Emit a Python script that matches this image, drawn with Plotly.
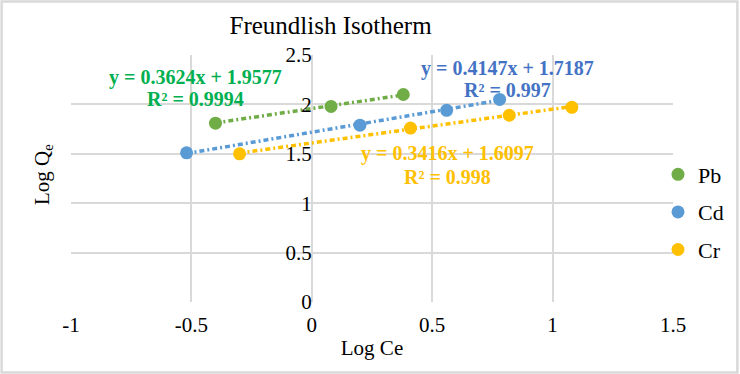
import plotly.graph_objects as go

# ---- data ----
series_names = ["Pb", "Cd", "Cr"]
pb_x = [-0.40, 0.08, 0.38]
pb_y = [1.81, 1.98, 2.10]
cd_x = [-0.52, 0.20, 0.56, 0.78]
cd_y = [1.51, 1.79, 1.94, 2.05]
cr_x = [-0.30, 0.41, 0.82, 1.08]
cr_y = [1.50, 1.76, 1.89, 1.97]
slopes = [0.3624, 0.4147, 0.3416]
intercepts = [1.9577, 1.7187, 1.6097]
r2_values = ["0.9994", "0.997", "0.998"]
x_ticks = [-1, -0.5, 0, 0.5, 1, 1.5]
y_ticks = [0, 0.5, 1, 1.5, 2, 2.5]

marker_colors = ["#70AD47", "#5B9BD5", "#FFC000"]
label_colors = ["#00B050", "#4472C4", "#FFC000"]
FONT = "Liberation Serif"

xs = [pb_x, cd_x, cr_x]
ys = [pb_y, cd_y, cr_y]

fig = go.Figure()
for i, name in enumerate(series_names):
    x0, x1 = min(xs[i]), max(xs[i])
    fig.add_trace(go.Scatter(
        x=[x0, x1], y=[slopes[i] * x0 + intercepts[i], slopes[i] * x1 + intercepts[i]],
        mode="lines", line=dict(color=marker_colors[i], width=3.5, dash="5px,3px,2px,3px"),
        showlegend=False, hoverinfo="skip"))
for i, name in enumerate(series_names):
    fig.add_trace(go.Scatter(
        x=xs[i], y=ys[i], mode="markers", name=name, legendgroup=name,
        marker=dict(color=marker_colors[i], size=13)))

# equation labels (data coordinates)
eq_pos = [(-0.481, 2.276, 2.057), (0.812, 2.364, 2.144), (0.563, 1.508, 1.269)]
for i in range(3):
    xp, y1, y2 = eq_pos[i]
    fig.add_annotation(x=xp, y=y1, xref="x", yref="y", showarrow=False,
                       text=f"y = {slopes[i]}x + {intercepts[i]}",
                       font=dict(family=FONT, size=20, color=label_colors[i], weight="bold"))
    fig.add_annotation(x=xp, y=y2, xref="x", yref="y", showarrow=False,
                       text=f"R² = {r2_values[i]}",
                       font=dict(family=FONT, size=20, color=label_colors[i], weight="bold"))

L, R, T, B = 71, 66, 55, 72
W, H = 740, 374
pw, ph = W - L - R, H - T - B
fig.add_shape(type="rect", xref="paper", yref="paper",
              x0=-(L - 1.5) / pw, x1=1 + (R - 1.5) / pw, y0=-(B - 1.5) / ph, y1=1 + (T - 1.5) / ph,
              line=dict(color="#d9d9d9", width=2.5), layer="below")

fig.update_layout(
    width=W, height=H, margin=dict(l=L, r=R, t=T, b=B),
    paper_bgcolor="white", plot_bgcolor="white",
    font=dict(family=FONT, size=21, color="#000000"),
    title=dict(text="Freundlish Isotherm", x=(331 - L) / pw, xref="paper", xanchor="center",
               y=1 - 25 / H, yanchor="middle", font=dict(family=FONT, size=25, color="#000000")),
    xaxis=dict(range=[-1, 1.5], tickvals=x_ticks, ticktext=[str(v) for v in x_ticks],
               showgrid=True, gridcolor="#d9d9d9", gridwidth=1.5, zeroline=False, showline=False,
               ticks="", ticklabelstandoff=8, tickfont=dict(size=21),
               title=dict(text="Log Ce", standoff=4, font=dict(size=21))),
    yaxis=dict(range=[0, 2.5], tickvals=y_ticks, ticktext=[str(v) for v in y_ticks],
               showgrid=True, gridcolor="#d9d9d9", gridwidth=1.5, zeroline=False, showline=False,
               ticks="", anchor="free", position=0.4, tickfont=dict(size=21)),
    legend=dict(x=(658 - L) / pw, xanchor="left", y=(302 - 212) / ph, yanchor="middle",
                bgcolor="rgba(0,0,0,0)", tracegroupgap=6, font=dict(size=22)),
    showlegend=True,
)
fig.add_annotation(text="Log Q<sub>e</sub>", textangle=-90, xref="paper", yref="paper",
                   x=-(L - 28) / pw, y=(302 - 175) / ph, showarrow=False,
                   font=dict(family=FONT, size=21, color="#000000"))

fig.write_html("out.html")
